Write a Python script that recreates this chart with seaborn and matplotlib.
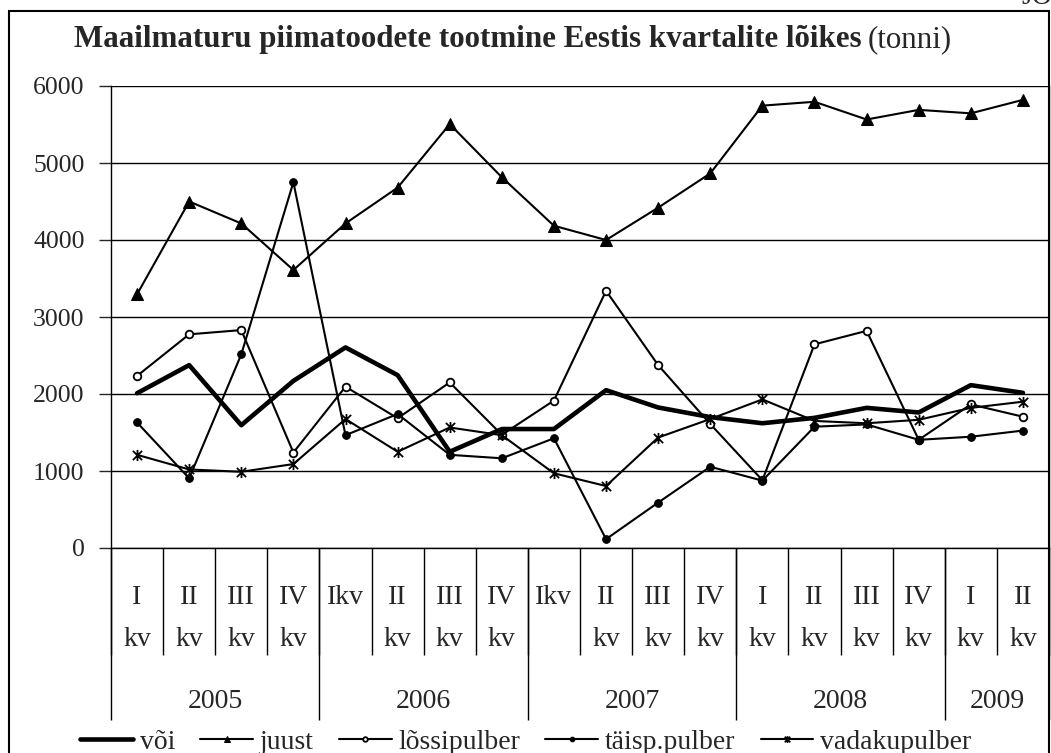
import numpy as np
import pandas as pd
import matplotlib
matplotlib.use("Agg")
import matplotlib.pyplot as plt
from matplotlib.patches import Rectangle
from matplotlib.path import Path
import seaborn as sns

# Andmed (tonni), kvartalid 2005 I kv ... 2009 II kv
voi = [2010, 2375, 1595, 2170, 2605, 2245, 1250, 1545, 1545, 2050, 1825, 1700, 1620, 1690, 1820, 1760, 2115, 2015]
juust = [3295, 4500, 4215, 3610, 4215, 4680, 5505, 4815, 4185, 4000, 4420, 4865, 5745, 5795, 5565, 5690, 5645, 5820]
lossipulber = [2235, 2775, 2830, 1240, 2095, 1685, 2150, 1470, 1915, 3340, 2375, 1610, 880, 2645, 2820, 1405, 1865, 1705]
taisppulber = [1630, 905, 2515, 4750, 1465, 1740, 1210, 1165, 1425, 115, 590, 1055, 875, 1575, 1605, 1405, 1445, 1525]
vadakupulber = [1210, 1020, 990, 1090, 1675, 1250, 1565, 1465, 970, 805, 1435, 1675, 1930, 1650, 1620, 1665, 1820, 1900]

kvartal_ules = ["I", "II", "III", "IV", "Ikv", "II", "III", "IV", "Ikv", "II", "III", "IV",
                "I", "II", "III", "IV", "I", "II"]
kvartal_all = ["kv", "kv", "kv", "kv", "", "kv", "kv", "kv", "", "kv", "kv", "kv",
               "kv", "kv", "kv", "kv", "kv", "kv"]
aastad = ["2005", "2006", "2007", "2008", "2009"]
kvartaleid_aastas = [4, 4, 4, 4, 2]

seeriad = {
    "või": voi,
    "juust": juust,
    "lõssipulber": lossipulber,
    "täisp.pulber": taisppulber,
    "vadakupulber": vadakupulber,
}

sns.set_style("white")
plt.rcParams["font.family"] = ["Liberation Serif", "DejaVu Serif"]

W, H = 1051, 753
fig = plt.figure(figsize=(W / 100, H / 100), dpi=100)
ax = fig.add_axes([111 / W, (H - 548) / H, 938 / W, 462 / H])

# Exceli "täht": X + püstjoon
taht = Path([(-1, -1), (1, 1), (-1, 1), (1, -1), (0, -1.2), (0, 1.2)],
            [Path.MOVETO, Path.LINETO, Path.MOVETO, Path.LINETO, Path.MOVETO, Path.LINETO])

x = np.arange(len(voi))
stiilid = {
    "või": dict(lw=3.3, marker=None),
    "juust": dict(lw=1.5, marker="^", ms=8, mfc="black"),
    "lõssipulber": dict(lw=1.5, marker="o", ms=5.5, mfc="white", mew=1.3),
    "täisp.pulber": dict(lw=1.5, marker="o", ms=5.5, mfc="black"),
    "vadakupulber": dict(lw=1.5, marker=taht, ms=8, mew=1.3),
}
for nimi, vaartused in seeriad.items():
    st = stiilid[nimi]
    sns.lineplot(x=x, y=vaartused, ax=ax, color="black", label=nimi,
                 markeredgecolor="black", zorder=3, **st)

ax.set_xlim(-0.5, len(voi) - 0.5)
ax.set_ylim(0, 6000)
ax.set_yticks(range(0, 6001, 1000))
ax.tick_params(axis="y", labelsize=18.5, length=9, width=1, direction="out", left=True, pad=10)
ax.set_xticks([])
ax.yaxis.grid(True, color="black", lw=1)
ax.set_axisbelow(True)
for s in ["left", "bottom", "right"]:
    ax.spines[s].set_visible(True)
    ax.spines[s].set_color("black")
    ax.spines[s].set_linewidth(1)
ax.spines["top"].set_visible(False)

# kategooriate sildid
tr = ax.get_xaxis_transform()
for i, (a, b) in enumerate(zip(kvartal_ules, kvartal_all)):
    ax.text(i, -0.108, a, transform=tr, ha="center", va="center", fontsize=20)
    if b:
        ax.text(i, -0.197, b, transform=tr, ha="center", va="center", fontsize=20)
ax.vlines(np.arange(len(voi) + 1) - 0.5, -0.232, 0, transform=tr, colors="black",
          lw=1, clip_on=False)
piirid = np.concatenate([[0], np.cumsum(kvartaleid_aastas)]) - 0.5
ax.vlines(piirid, -0.372, 0, transform=tr, colors="black", lw=1, clip_on=False)
for k, aasta in enumerate(aastad):
    ax.text((piirid[k] + piirid[k + 1]) / 2, -0.333, aasta, transform=tr,
            ha="center", va="center", fontsize=20)

leg = ax.legend(loc="center left", bbox_to_anchor=(80 / W, 1 - 742 / H), bbox_transform=fig.transFigure,
                ncol=5, frameon=False, fontsize=20, handlelength=1.9, handletextpad=0.25,
                columnspacing=0.9, markerscale=0.6, borderaxespad=0, borderpad=0)

# pealkiri
t1 = fig.text(74 / W, 1 - 40 / H,
              "Maailmaturu piimatoodete tootmine Eestis kvartalite lõikes",
              fontsize=22.3, fontweight="bold", ha="left", va="center")
fig.canvas.draw()
bb = t1.get_window_extent()
fig.text((bb.x1 + 6) / W, 1 - 40 / H, "(tonni)", fontsize=22.3, ha="left", va="center")

fig.text(1021 / W, 1 - 4 / H, "JÕ", fontsize=20, ha="left", va="baseline")

fig.patches.append(Rectangle((9 / W, -0.01), 1040 / W, (H - 11) / H + 0.01, transform=fig.transFigure,
                             fill=False, edgecolor="black", lw=1.5))

fig.savefig("out.png", dpi=100)
